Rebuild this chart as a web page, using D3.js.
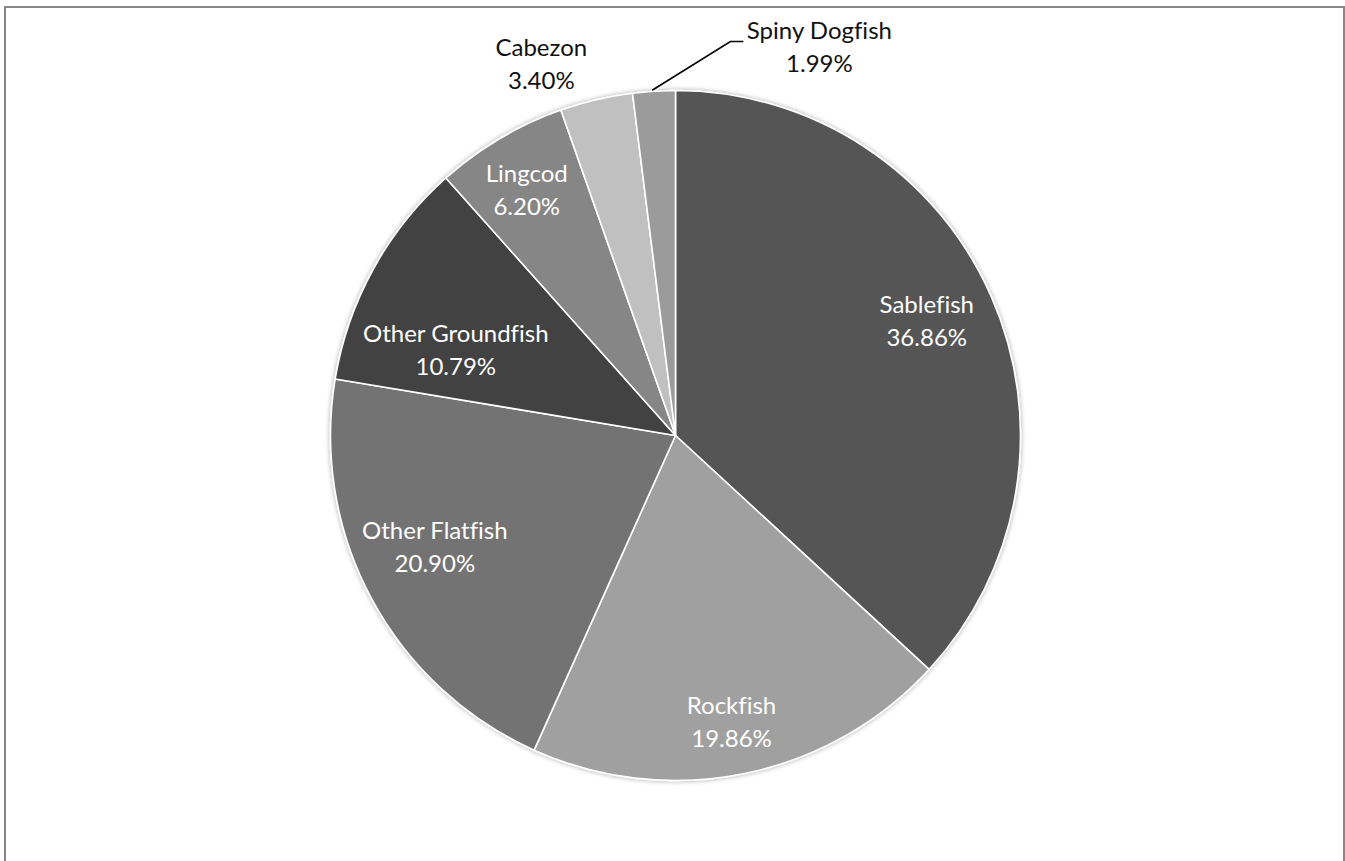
<!DOCTYPE html>
<html>
<head>
<meta charset="utf-8">
<script src="https://cdn.jsdelivr.net/npm/d3@7"></script>
<style>
  html, body { margin: 0; padding: 0; background: #fff; }
  svg { display: block; }
  text { font-family: Lato, "Open Sans", sans-serif; font-variant-ligatures: none; font-feature-settings: "liga" 0; }
</style>
</head>
<body>
<svg id="chart" width="1345" height="861"></svg>
<script>
// ---- data ----
const categories = ["Sablefish", "Rockfish", "Other Flatfish", "Other Groundfish", "Lingcod", "Cabezon", "Spiny Dogfish"];
const values = [36.86, 19.86, 20.90, 10.79, 6.20, 3.40, 1.99];
const percentLabels = ["36.86%", "19.86%", "20.90%", "10.79%", "6.20%", "3.40%", "1.99%"];
const colors = ["#545454", "#a0a0a0", "#737373", "#434343", "#868686", "#c0c0c0", "#9b9b9b"];

// ---- layout config (label placement: radius factor, angle offset in degrees) ----
const labelLayout = {
  "Sablefish": [0.79, 0.85],
  "Rockfish": [0.87, 0.8],
  "Other Flatfish": [0.78, 1.6],
  "Other Groundfish": [0.675, -9.5],
  "Lingcod": [0.81, -1.6],
  "Cabezon": [1.122, -7.0],
  "Spiny Dogfish": [1.179, 24.3]
};
const outside = new Set(["Cabezon", "Spiny Dogfish"]);

const svg = d3.select("#chart");
const cx = 675.5, cy = 435.5, R = 345;

// frame
svg.append("rect")
  .attr("x", 5).attr("y", 7)
  .attr("width", 1339).attr("height", 870)
  .attr("fill", "#fff")
  .attr("stroke", "#888")
  .attr("stroke-width", 2);

const defs = svg.append("defs");
const f = defs.append("filter").attr("id", "shadow").attr("x", "-10%").attr("y", "-10%").attr("width", "120%").attr("height", "120%");
f.append("feGaussianBlur").attr("in", "SourceAlpha").attr("stdDeviation", 2.5).attr("result", "blur");
f.append("feComponentTransfer").attr("in", "blur").attr("result", "soft")
  .append("feFuncA").attr("type", "linear").attr("slope", 0.35);
const m = f.append("feMerge");
m.append("feMergeNode").attr("in", "soft");
m.append("feMergeNode").attr("in", "SourceGraphic");

const data = categories.map((c, i) => ({ name: c, value: values[i], label: percentLabels[i], color: colors[i] }));

const pie = d3.pie().value(d => d.value).sort(null);
const arcs = pie(data);
const arc = d3.arc().innerRadius(0).outerRadius(R);

const g = svg.append("g").attr("transform", `translate(${cx},${cy})`);

g.append("g").attr("filter", "url(#shadow)")
  .selectAll("path")
  .data(arcs)
  .join("path")
  .attr("d", arc)
  .attr("fill", d => d.data.color)
  .attr("stroke", "#fff")
  .attr("stroke-width", 1.6)
  .attr("stroke-linejoin", "round");

// labels
const lineGap = 33;
arcs.forEach(a => {
  const [rf, off] = labelLayout[a.data.name];
  const mid = (a.startAngle + a.endAngle) / 2 + off * Math.PI / 180;
  const lr = R * rf;
  const x = Math.sin(mid) * lr;
  const y = -Math.cos(mid) * lr;
  const isOut = outside.has(a.data.name);
  const t = g.append("text")
    .attr("text-anchor", "middle")
    .attr("font-size", 24)
    .attr("fill", isOut ? "#111111" : "#ffffff");
  t.append("tspan").attr("x", x).attr("y", y - lineGap / 2).text(a.data.name);
  t.append("tspan").attr("x", x).attr("y", y + lineGap / 2).text(a.data.label);

  if (a.data.name === "Spiny Dogfish") {
    const am = (a.startAngle + a.endAngle) / 2 - 0.005;
    const p0 = [Math.sin(am) * (R + 1), -Math.cos(am) * (R + 1)];
    const elbowY = y - lineGap / 2 + 3;
    const p2x = x - 76;
    const p1x = p2x - 13;
    g.append("polyline")
      .attr("points", [p0, [p1x, elbowY], [p2x, elbowY]].map(p => p.join(",")).join(" "))
      .attr("fill", "none")
      .attr("stroke", "#000")
      .attr("stroke-width", 1.6);
  }
});
</script>
</body>
</html>
